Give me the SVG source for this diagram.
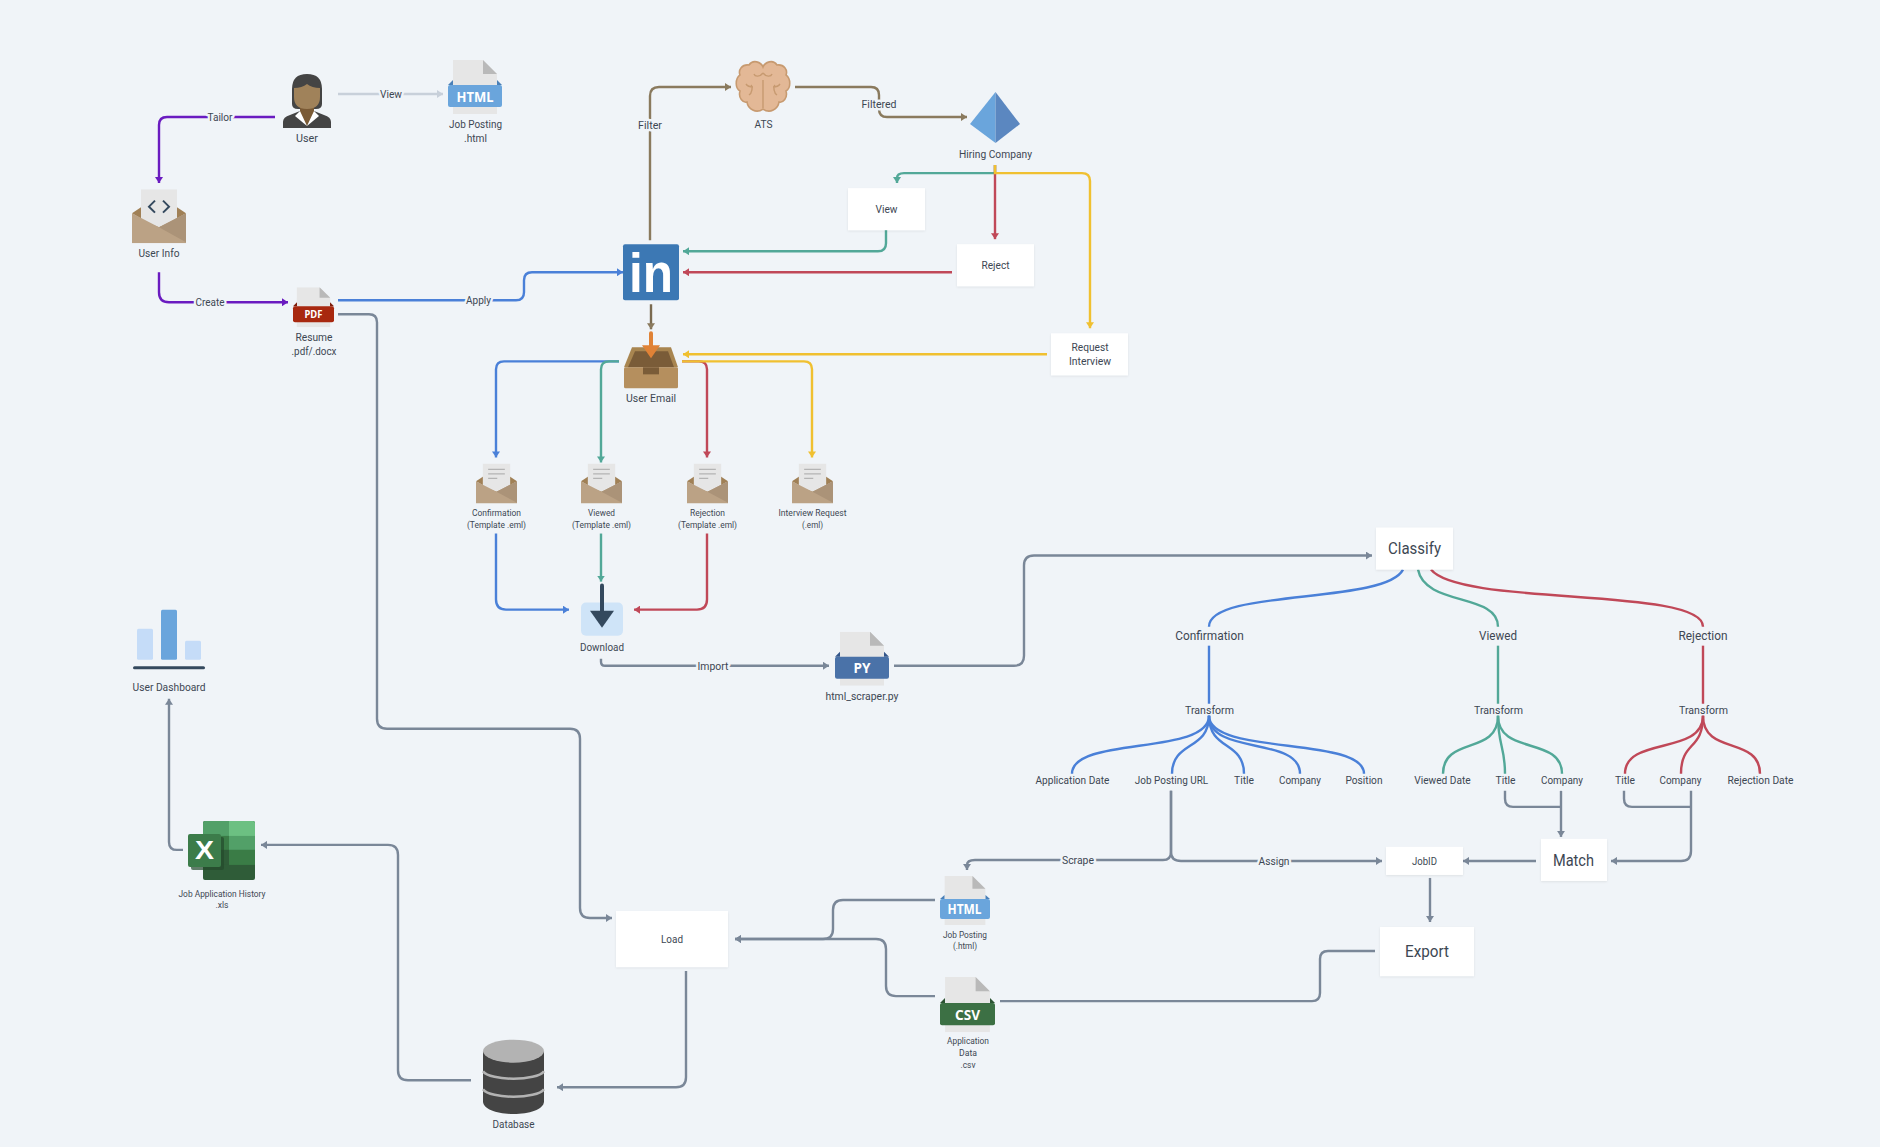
<svg xmlns="http://www.w3.org/2000/svg" width="1880" height="1147" viewBox="0 0 1880 1147">
<style>
text{font-family:Roboto,"Liberation Sans",sans-serif;fill:#3d4753;text-anchor:middle;font-size:11px}
.e{paint-order:stroke;stroke:#f0f4f8;stroke-width:5px;stroke-linejoin:round}
.s9{font-size:9px}.s12{font-size:12.5px}.s115{font-size:11.5px}.s16{font-size:16px}
.band{font-family:"Noto Sans",sans-serif;font-weight:700;fill:#fff}
.box{fill:#fff;filter:url(#sh)}
#connectors path{fill:none;stroke-width:2.400}
.pu{stroke:#6a1bc0;marker-end:url(#apu)}.li{stroke:#c8d0da;marker-end:url(#ali)}.bl{stroke:#4a80d8;marker-end:url(#abl)}
.gr{stroke:#7a8798;marker-end:url(#agr)}.br{stroke:#8a7a5e;marker-end:url(#abr)}.te{stroke:#52a898;marker-end:url(#ate)}
.re{stroke:#c04858;marker-end:url(#are)}.ye{stroke:#f0c030;marker-end:url(#aye)}
.nm{marker-end:none}
</style>
<defs>
<filter id="sh" x="-10%" y="-10%" width="120%" height="125%"><feDropShadow dx="0" dy="1" stdDeviation="1.2" flood-color="#000" flood-opacity=".08"/></filter>
<marker id="apu" markerUnits="userSpaceOnUse" markerWidth="6" markerHeight="8" refX="6" refY="4" orient="auto"><polygon points="0,0 6,4 0,8" fill="#6a1bc0"/></marker>
<marker id="ali" markerUnits="userSpaceOnUse" markerWidth="6" markerHeight="8" refX="6" refY="4" orient="auto"><polygon points="0,0 6,4 0,8" fill="#c8d0da"/></marker>
<marker id="abl" markerUnits="userSpaceOnUse" markerWidth="6" markerHeight="8" refX="6" refY="4" orient="auto"><polygon points="0,0 6,4 0,8" fill="#4a80d8"/></marker>
<marker id="agr" markerUnits="userSpaceOnUse" markerWidth="6" markerHeight="8" refX="6" refY="4" orient="auto"><polygon points="0,0 6,4 0,8" fill="#7a8798"/></marker>
<marker id="abr" markerUnits="userSpaceOnUse" markerWidth="6" markerHeight="8" refX="6" refY="4" orient="auto"><polygon points="0,0 6,4 0,8" fill="#8a7a5e"/></marker>
<marker id="ate" markerUnits="userSpaceOnUse" markerWidth="6" markerHeight="8" refX="6" refY="4" orient="auto"><polygon points="0,0 6,4 0,8" fill="#52a898"/></marker>
<marker id="are" markerUnits="userSpaceOnUse" markerWidth="6" markerHeight="8" refX="6" refY="4" orient="auto"><polygon points="0,0 6,4 0,8" fill="#c04858"/></marker>
<marker id="aye" markerUnits="userSpaceOnUse" markerWidth="6" markerHeight="8" refX="6" refY="4" orient="auto"><polygon points="0,0 6,4 0,8" fill="#f0c030"/></marker>
<symbol id="sheet" viewBox="0 0 54 54" preserveAspectRatio="none">
<polygon points="5,0 35,0 49,14 49,54 5,54" fill="#e6e6e6"/><polygon points="35,0 49,14 35,14" fill="#b9b9b9"/>
</symbol>
<symbol id="env" viewBox="0 0 54 54" preserveAspectRatio="none">
<polygon points="0,24 9,18 45,18 54,24 27,40" fill="#a08056"/>
<polygon points="9,0 45,0 45,31 27,38 9,31" fill="#e6e6e6"/>
<polygon points="0,24 27,38 54,24 54,54 0,54" fill="#bba285"/>
<polygon points="27,38 54,24 54,53" fill="#ab9378"/>
</symbol>
<symbol id="lines" viewBox="0 0 54 54" preserveAspectRatio="none">
<path d="M16 8H38M16 14H38M16 20H28" stroke="#b4b4b4" stroke-width="1.6" fill="none"/>
</symbol>
</defs>
<rect width="1880" height="1147" fill="#f0f4f8"/>
<g transform="translate(0 -0.1) scale(1 1.0012)">
<g id="connectors">
<path class="pu" d="M275 117H167Q159 117 159 125V183"/>
<path class="li" d="M338 94H443"/>
<path class="pu" d="M159 272V292Q159 302 169 302H288"/>
<path class="bl" d="M338 300H516Q524 300 524 292V280Q524 272 532 272H623"/>
<path class="gr" d="M338 314H369Q377 314 377 322V718Q377 728 387 728H570Q580 728 580 738V907Q580 917 590 917H612"/>
<path class="gr" d="M686 970V1076Q686 1086 676 1086H557"/>
<path class="gr" d="M471 1079H408Q398 1079 398 1069V854Q398 844 388 844H261"/>
<path class="gr" d="M183 849H177Q169 849 169 841V698"/>
<path class="br" d="M650 240V96Q650 87 659 87H731"/>
<path class="br" d="M795 87H871Q879 87 879 95V109Q879 117 887 117H967"/>
<path class="te" d="M995 165V173H904Q897 173 897 178V183"/>
<path class="re" d="M995 165V239"/>
<path class="ye" d="M995 165V173H1082Q1090 173 1090 181V328"/>
<path class="te" d="M886 229V243Q886 251 878 251H683"/>
<path class="re" d="M952 272H683"/>
<path class="br" style="stroke:#7a6a50" d="M651 304V329"/>
<path class="ye" d="M1047 354H683"/>
<path class="bl" d="M619 361H504Q496 361 496 369V457"/>
<path class="te" d="M619 361H609Q601 361 601 369V462"/>
<path class="re" d="M682 361H699Q707 361 707 369V457"/>
<path class="ye" d="M682 361H804Q812 361 812 369V457"/>
<path class="bl" d="M496 533V599Q496 609 506 609H569"/>
<path class="te" d="M601 533V581"/>
<path class="re" d="M707 533V599Q707 609 697 609H634"/>
<path class="gr" d="M601 658V661Q601 665 605 665H829"/>
<path class="gr" d="M894 665H1014Q1024 665 1024 655V565Q1024 555 1034 555H1372"/>
<path class="bl nm" d="M1403 569C1385 604 1209 588 1209 626"/>
<path class="te nm" d="M1418 569C1425 606 1498 592 1498 626"/>
<path class="re nm" d="M1431 569C1460 606 1703 586 1703 626"/>
<path class="bl nm" d="M1209 645V703"/>
<path class="te nm" d="M1498 645V703"/>
<path class="re nm" d="M1703 645V703"/>
<path class="bl nm" d="M1209 715C1209 755 1072 735 1072 773"/>
<path class="bl nm" d="M1209 715C1209 750 1172 740 1172 773"/>
<path class="bl nm" d="M1209 715C1209 750 1244 740 1244 773"/>
<path class="bl nm" d="M1209 715C1209 755 1300 735 1300 773"/>
<path class="bl nm" d="M1209 715C1209 755 1364 735 1364 773"/>
<path class="te nm" d="M1498 715C1498 755 1443 735 1443 773"/>
<path class="te nm" d="M1498 715C1498 745 1505 745 1505 773"/>
<path class="te nm" d="M1498 715C1498 755 1562 735 1562 773"/>
<path class="re nm" d="M1703 715C1703 755 1625 735 1625 773"/>
<path class="re nm" d="M1703 715C1703 750 1681 740 1681 773"/>
<path class="re nm" d="M1703 715C1703 755 1760 735 1760 773"/>
<path class="gr" d="M1171 790V851Q1171 859 1163 859H975Q967 859 967 864V869"/>
<path class="gr" d="M1171 790V851Q1171 860 1181 860H1382"/>
<path class="gr nm" d="M1505 790V798Q1505 806 1513 806H1561"/>
<path class="gr" d="M1561 790V836"/>
<path class="gr nm" d="M1624 790V798Q1624 806 1632 806H1691"/>
<path class="gr" d="M1691 790V850Q1691 860 1681 860H1611"/>
<path class="gr" d="M1536 860H1463"/>
<path class="gr" d="M1430 877V921"/>
<path class="gr nm" d="M1375 950H1328Q1320 950 1320 958V992Q1320 1000 1312 1000H1000"/>
<path class="gr" d="M935 899H843Q833 899 833 909V928Q833 938 823 938H735"/>
<path class="gr" d="M935 995H896Q886 995 886 985V948Q886 938 876 938H735"/>
</g>
<g id="edge-labels">
<text class="e" x="220" y="121" textLength="25" lengthAdjust="spacingAndGlyphs">Tailor</text>
<text class="e" x="391" y="98" textLength="22" lengthAdjust="spacingAndGlyphs">View</text>
<text class="e" x="210" y="306" textLength="29" lengthAdjust="spacingAndGlyphs">Create</text>
<text class="e" x="478.5" y="304" textLength="25" lengthAdjust="spacingAndGlyphs">Apply</text>
<text class="e" x="650" y="129" textLength="24" lengthAdjust="spacingAndGlyphs">Filter</text>
<text class="e" x="879" y="108" textLength="35" lengthAdjust="spacingAndGlyphs">Filtered</text>
<text class="e" x="713" y="669" textLength="31" lengthAdjust="spacingAndGlyphs">Import</text>
<text class="e" x="1078" y="863" textLength="32" lengthAdjust="spacingAndGlyphs">Scrape</text>
<text class="e" x="1274" y="864" textLength="31" lengthAdjust="spacingAndGlyphs">Assign</text>
</g>
<g id="user">
<path d="M283 128V122Q283 117 290 115L300 111H314L324 115Q331 117 331 122V128Z" fill="#444"/>
<path d="M292 104V89Q292 74 307 74Q322 74 322 89V104Q322 109 316 109H298Q292 109 292 104Z" fill="#444"/>
<path d="M300 104H314V114L307 126L300 114Z" fill="#7a5a35"/>
<path d="M294 88Q302 88 307 84Q312 88 320 88V97Q320 109 307 109Q294 109 294 97Z" fill="#a0825a"/>
<polygon points="300,111 295,116 307,126" fill="#fff"/><polygon points="314,111 319,116 307,126" fill="#fff"/>
<text x="307" y="142" textLength="22" lengthAdjust="spacingAndGlyphs">User</text>
</g>
<g id="job-posting-html">
<use href="#sheet" x="448" y="60" width="54" height="54"/>
<polygon points="448,85 453,80 453,85" fill="#4a80b8"/><polygon points="502,85 497,80 497,85" fill="#4a80b8"/>
<rect x="448" y="85" width="54" height="22" rx="2" fill="#6aa5dc"/>
<text class="band" x="475" y="101.500" style="font-size:15px" textLength="37" lengthAdjust="spacingAndGlyphs">HTML</text>
<text x="475.5" y="128" textLength="53" lengthAdjust="spacingAndGlyphs">Job Posting</text>
<text x="475.5" y="142" textLength="23" lengthAdjust="spacingAndGlyphs">.html</text>
</g>
<g id="user-info">
<use href="#env" x="132" y="189" width="54" height="54"/>
<path d="M155 200.500L149 206.500L155 212.500M163 200.500L169 206.500L163 212.500" fill="none" stroke="#34495e" stroke-width="2"/>
<text x="159" y="257" textLength="41" lengthAdjust="spacingAndGlyphs">User Info</text>
</g>
<g id="resume">
<use href="#sheet" x="293" y="287" width="41" height="40"/>
<polygon points="293,306 297,302 297,306" fill="#7e1d0a"/><polygon points="334,306 330,302 330,306" fill="#7e1d0a"/>
<rect x="293" y="306" width="41" height="16" rx="2" fill="#a8280f"/>
<text class="band" x="313.500" y="318" style="font-size:10.500px" textLength="18" lengthAdjust="spacingAndGlyphs">PDF</text>
<text x="314" y="341" textLength="37" lengthAdjust="spacingAndGlyphs">Resume</text>
<text x="314" y="355" textLength="45" lengthAdjust="spacingAndGlyphs">.pdf/.docx</text>
</g>
<g id="ats">
<g transform="translate(736 60)">
<path d="M27 7C25 2 17-1 13 5C6 4 2 10 4 15C-1 19-1 28 4 31C2 38 7 43 11 42C12 49 20 54 27 49C34 54 42 49 43 42C47 43 52 38 50 31C55 28 55 19 50 15C52 10 48 4 41 5C37-1 29 2 27 7Z" fill="#e3b896" stroke="#c79a70" stroke-width="1.600"/>
<path d="M27 20V48M27 13C24 17 19 17 18 14M27 13C30 17 35 17 36 14M15 25C17 27 16 33 13 35M39 25C37 27 38 33 41 35M10 24C12 27 15 27 17 27M44 24C42 27 39 27 37 27" fill="none" stroke="#c79a70" stroke-width="1.400"/>
</g>
<text x="763.500" y="128" textLength="18" lengthAdjust="spacingAndGlyphs">ATS</text>
</g>
<g id="hiring-company">
<polygon points="995.500,92 970,124 995.500,143" fill="#6aa5dc"/><polygon points="995.500,92 1020,124 995.500,143" fill="#5b87c0"/>
<text x="995.500" y="158" textLength="73" lengthAdjust="spacingAndGlyphs">Hiring Company</text>
</g>
<g id="view-box"><rect class="box" x="848" y="188" width="77" height="42"/><text x="886.500" y="213" textLength="22" lengthAdjust="spacingAndGlyphs">View</text></g>
<g id="reject-box"><rect class="box" x="957" y="244" width="77" height="42"/><text x="995.500" y="269" textLength="28" lengthAdjust="spacingAndGlyphs">Reject</text></g>
<g id="request-box"><rect class="box" x="1051" y="333" width="77" height="42"/><text x="1090" y="351" textLength="37" lengthAdjust="spacingAndGlyphs">Request</text><text x="1090" y="365" textLength="42" lengthAdjust="spacingAndGlyphs">Interview</text></g>
<g id="linkedin">
<rect x="623" y="244" width="56" height="56" rx="2" fill="#3c78b4"/>
<text x="651" y="292" textLength="44" lengthAdjust="spacingAndGlyphs" style="font-family:'Liberation Sans',sans-serif;font-weight:700;fill:#fff;font-size:56px">in</text>
</g>
<g id="user-email">
<polygon points="632,347 671,347 678,367 624,367" fill="#a88550"/>
<polygon points="635,351 668,351 674,367 628,367" fill="#7a5c38"/>
<rect x="624" y="367" width="54" height="21" rx="1.500" fill="#b58f5e"/>
<rect x="643" y="367" width="16" height="7" fill="#7a5c38"/>
<path d="M651 333V346" stroke="#e08236" stroke-width="4" stroke-linecap="round"/>
<polygon points="642,345 660,345 651,358" fill="#e08236"/>
<text x="651" y="402" textLength="50" lengthAdjust="spacingAndGlyphs">User Email</text>
</g>
<g id="confirmation-eml">
<use href="#env" x="476" y="463" width="41" height="40"/><use href="#lines" x="476" y="463" width="41" height="40"/>
<text class="s9" x="496.500" y="515" textLength="49" lengthAdjust="spacingAndGlyphs">Confirmation</text><text class="s9" x="496.500" y="527" textLength="59" lengthAdjust="spacingAndGlyphs">(Template .eml)</text>
</g>
<g id="viewed-eml">
<use href="#env" x="581" y="463" width="41" height="40"/><use href="#lines" x="581" y="463" width="41" height="40"/>
<text class="s9" x="601.500" y="515" textLength="27" lengthAdjust="spacingAndGlyphs">Viewed</text><text class="s9" x="601.500" y="527" textLength="59" lengthAdjust="spacingAndGlyphs">(Template .eml)</text>
</g>
<g id="rejection-eml">
<use href="#env" x="687" y="463" width="41" height="40"/><use href="#lines" x="687" y="463" width="41" height="40"/>
<text class="s9" x="707.500" y="515" textLength="35" lengthAdjust="spacingAndGlyphs">Rejection</text><text class="s9" x="707.500" y="527" textLength="59" lengthAdjust="spacingAndGlyphs">(Template .eml)</text>
</g>
<g id="interview-eml">
<use href="#env" x="792" y="463" width="41" height="40"/><use href="#lines" x="792" y="463" width="41" height="40"/>
<text class="s9" x="812.500" y="515" textLength="68" lengthAdjust="spacingAndGlyphs">Interview Request</text><text class="s9" x="812.500" y="527" textLength="21" lengthAdjust="spacingAndGlyphs">(.eml)</text>
</g>
<g id="download">
<rect x="581" y="602" width="42" height="33" rx="5" fill="#cfe4f8"/>
<path d="M602 585V612" stroke="#34495e" stroke-width="4" stroke-linecap="round"/>
<polygon points="590,610 614,610 602,627" fill="#34495e"/>
<text x="602" y="650" textLength="44" lengthAdjust="spacingAndGlyphs">Download</text>
</g>
<g id="html-scraper">
<use href="#sheet" x="835" y="631" width="54" height="54"/>
<polygon points="835,656 840,651 840,656" fill="#34568a"/><polygon points="889,656 884,651 884,656" fill="#34568a"/>
<rect x="835" y="656" width="54" height="22" rx="2" fill="#4a72a8"/>
<text class="band" x="862" y="672.500" style="font-size:15px" textLength="17" lengthAdjust="spacingAndGlyphs">PY</text>
<text x="862" y="699" textLength="73" lengthAdjust="spacingAndGlyphs">html_scraper.py</text>
</g>
<g id="classify"><rect class="box" x="1376" y="527" width="77" height="42"/><text class="s16" x="1414.500" y="553" textLength="53" lengthAdjust="spacingAndGlyphs">Classify</text></g>
<g id="tree-labels">
<text class="s12" x="1209.500" y="639" textLength="68.500" lengthAdjust="spacingAndGlyphs">Confirmation</text>
<text class="s12" x="1498" y="639" textLength="38" lengthAdjust="spacingAndGlyphs">Viewed</text>
<text class="s12" x="1703" y="639" textLength="49" lengthAdjust="spacingAndGlyphs">Rejection</text>
<text class="s115" x="1209.500" y="713" textLength="49" lengthAdjust="spacingAndGlyphs">Transform</text>
<text class="s115" x="1498.500" y="713" textLength="49" lengthAdjust="spacingAndGlyphs">Transform</text>
<text class="s115" x="1703.500" y="713" textLength="49" lengthAdjust="spacingAndGlyphs">Transform</text>
<text class="s115" x="1072.500" y="783" textLength="74" lengthAdjust="spacingAndGlyphs">Application Date</text>
<text class="s115" x="1171.500" y="783" textLength="73.500" lengthAdjust="spacingAndGlyphs">Job Posting URL</text>
<text class="s115" x="1244" y="783" textLength="20" lengthAdjust="spacingAndGlyphs">Title</text>
<text class="s115" x="1300" y="783" textLength="42" lengthAdjust="spacingAndGlyphs">Company</text>
<text class="s115" x="1364" y="783" textLength="37" lengthAdjust="spacingAndGlyphs">Position</text>
<text class="s115" x="1442.500" y="783" textLength="56.500" lengthAdjust="spacingAndGlyphs">Viewed Date</text>
<text class="s115" x="1505.500" y="783" textLength="20" lengthAdjust="spacingAndGlyphs">Title</text>
<text class="s115" x="1562" y="783" textLength="42" lengthAdjust="spacingAndGlyphs">Company</text>
<text class="s115" x="1625" y="783" textLength="20" lengthAdjust="spacingAndGlyphs">Title</text>
<text class="s115" x="1680.500" y="783" textLength="42" lengthAdjust="spacingAndGlyphs">Company</text>
<text class="s115" x="1760.500" y="783" textLength="66" lengthAdjust="spacingAndGlyphs">Rejection Date</text>
</g>
<g id="jobid"><rect class="box" x="1386" y="846" width="77" height="28"/><text x="1424.500" y="864" textLength="25" lengthAdjust="spacingAndGlyphs">JobID</text></g>
<g id="match"><rect class="box" x="1541" y="838" width="66" height="42"/><text class="s16" x="1573.500" y="865" textLength="41" lengthAdjust="spacingAndGlyphs">Match</text></g>
<g id="export"><rect class="box" x="1380" y="926" width="94" height="49"/><text class="s16" x="1427" y="956" textLength="44" lengthAdjust="spacingAndGlyphs">Export</text></g>
<g id="job-posting-small">
<use href="#sheet" x="940" y="875" width="50" height="49"/>
<polygon points="940,898 944.500,894 944.500,898" fill="#4a80b8"/><polygon points="990,898 985.500,894 985.500,898" fill="#4a80b8"/>
<rect x="940" y="898" width="50" height="20" rx="2" fill="#6aa5dc"/>
<text class="band" x="964.500" y="913.500" style="font-size:14px" textLength="34" lengthAdjust="spacingAndGlyphs">HTML</text>
<text class="s9" x="965" y="937" textLength="44" lengthAdjust="spacingAndGlyphs">Job Posting</text>
<text class="s9" x="965" y="948" textLength="24" lengthAdjust="spacingAndGlyphs">(.html)</text>
</g>
<g id="application-csv">
<use href="#sheet" x="940" y="976" width="55" height="55"/>
<polygon points="940,1002 945,997 945,1002" fill="#2c5433"/><polygon points="995,1002 990,997 990,1002" fill="#2c5433"/>
<rect x="940" y="1002" width="55" height="22" rx="2" fill="#3c7044"/>
<text class="band" x="967.500" y="1018.500" style="font-size:15px" textLength="25" lengthAdjust="spacingAndGlyphs">CSV</text>
<text class="s9" x="968" y="1043" textLength="42" lengthAdjust="spacingAndGlyphs">Application</text>
<text class="s9" x="968" y="1055" textLength="18" lengthAdjust="spacingAndGlyphs">Data</text>
<text class="s9" x="968" y="1067" textLength="15" lengthAdjust="spacingAndGlyphs">.csv</text>
</g>
<g id="load"><rect class="box" x="616" y="910" width="112" height="56"/><text x="672" y="942" textLength="22" lengthAdjust="spacingAndGlyphs">Load</text></g>
<g id="database">
<path d="M483 1050V1100C483 1117 544 1117 544 1100V1050Z" fill="#444"/>
<ellipse cx="513.500" cy="1050" rx="30.500" ry="11.500" fill="#b3b3b3"/>
<path d="M483 1070C490 1080 537 1080 544 1070M483 1088C490 1098 537 1098 544 1088" fill="none" stroke="#b3b3b3" stroke-width="2.500"/>
<text x="513.500" y="1127" textLength="42" lengthAdjust="spacingAndGlyphs">Database</text>
</g>
<g id="excel">
<rect x="203" y="820" width="52" height="59" rx="2" fill="#2f5c38"/>
<path d="M229 820H253Q255 820 255 822V835H229Z" fill="#6cc082"/>
<path d="M203 822Q203 820 205 820H229V835H203Z" fill="#52a068"/>
<rect x="229" y="835" width="26" height="14" fill="#52a068"/><rect x="203" y="835" width="26" height="14" fill="#3a7c46"/>
<rect x="229" y="849" width="26" height="15" fill="#3a7c46"/><rect x="203" y="849" width="26" height="15" fill="#2f5c38"/>
<rect x="191" y="836" width="33" height="33" rx="2" fill="#244a2c" opacity=".7"/>
<rect x="188" y="833" width="33" height="33" rx="2" fill="#3c7c4a"/>
<text x="204.500" y="858" textLength="19" lengthAdjust="spacingAndGlyphs" style="font-family:'Liberation Sans',sans-serif;font-weight:700;fill:#fff;font-size:25px">X</text>
<text class="s9" x="222" y="896" textLength="87" lengthAdjust="spacingAndGlyphs">Job Application History</text>
<text class="s9" x="222" y="907" textLength="13" lengthAdjust="spacingAndGlyphs">.xls</text>
</g>
<g id="dashboard">
<rect x="137" y="628" width="16" height="31" rx="1.500" fill="#c5dcf8"/>
<rect x="161" y="609" width="16" height="50" rx="1.500" fill="#6aa5dc"/>
<rect x="185" y="640" width="16" height="19" rx="1.500" fill="#c5dcf8"/>
<path d="M134.500 667H203.500" stroke="#34495e" stroke-width="3" stroke-linecap="round"/>
<text x="169" y="690" textLength="73" lengthAdjust="spacingAndGlyphs">User Dashboard</text>
</g>
</g>
</svg>
